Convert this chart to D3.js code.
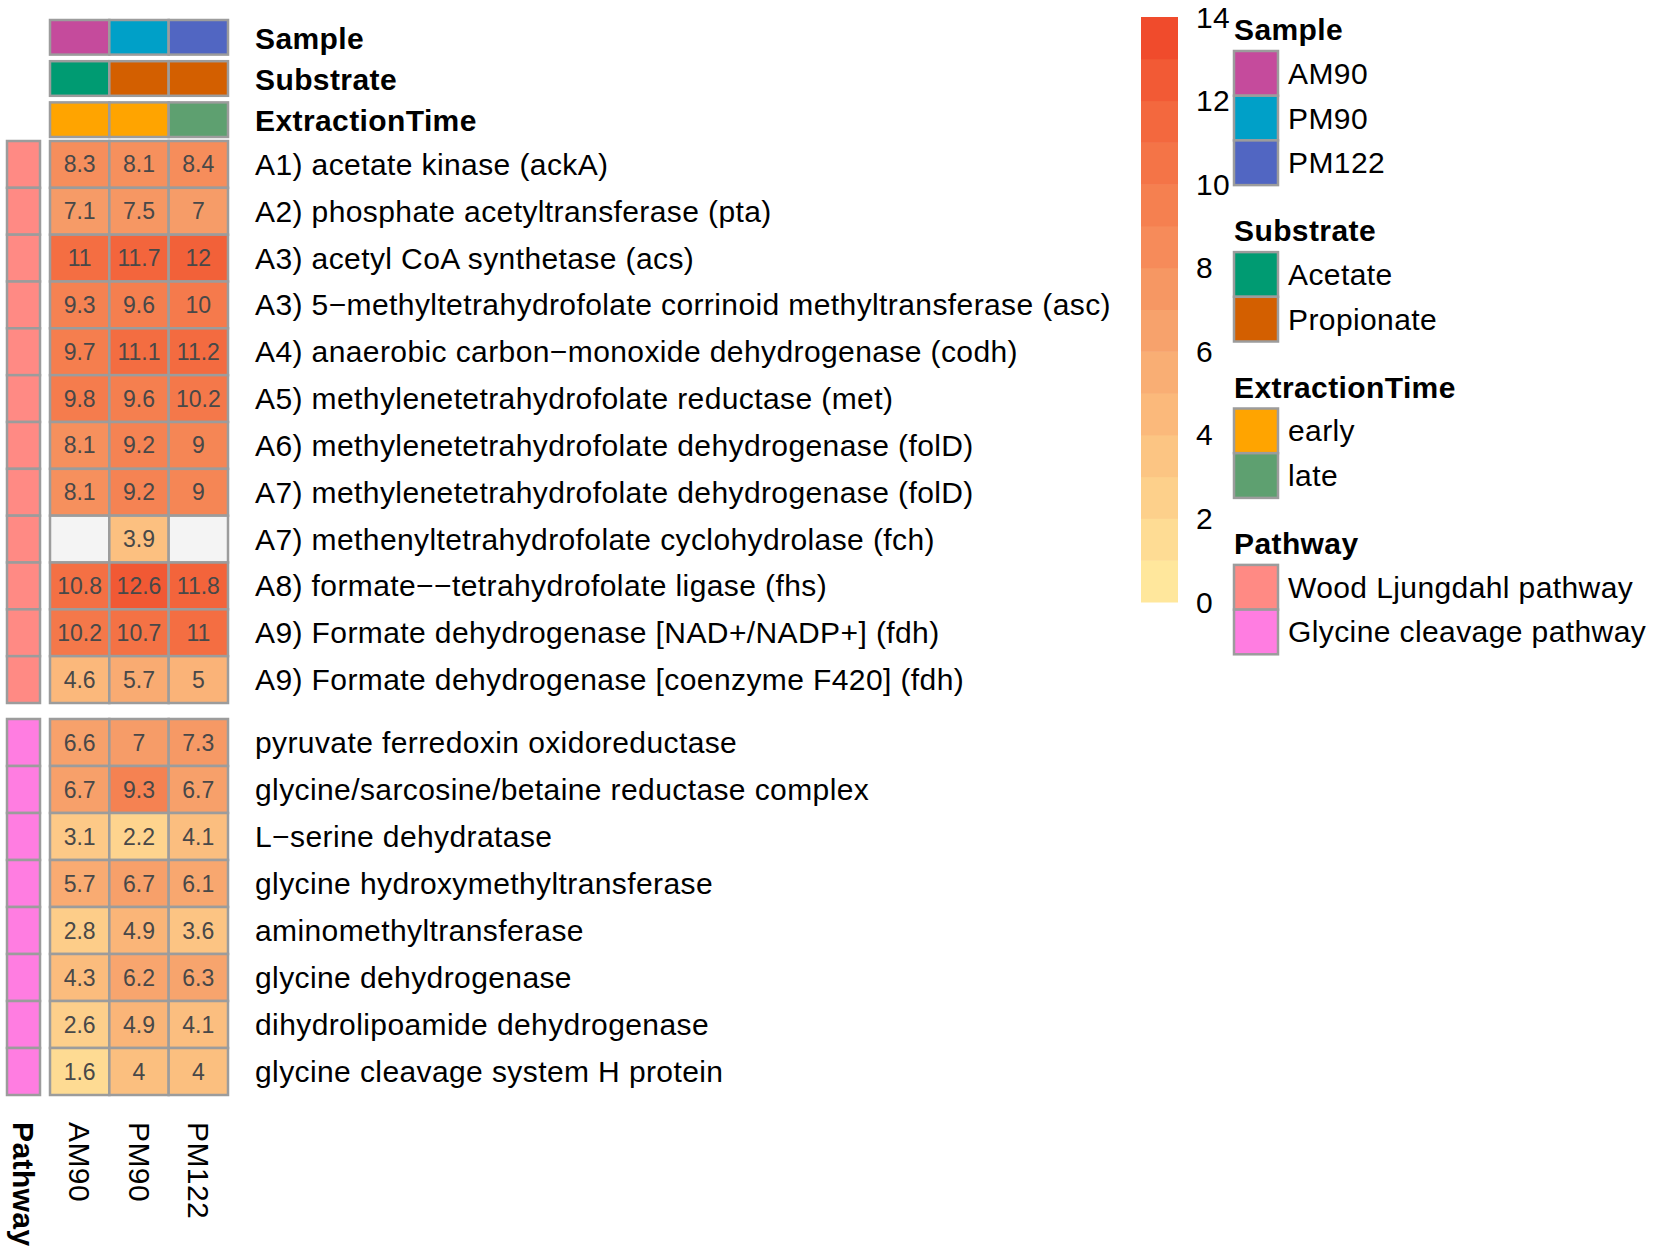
<!DOCTYPE html>
<html>
<head>
<meta charset="utf-8">
<script src="https://cdn.jsdelivr.net/npm/d3@7"></script>
<style>
  body { margin: 0; background: #fff; }
  text { font-family: "Liberation Sans", Arial, Helvetica, sans-serif; fill: #000; letter-spacing: 0.4px; }
</style>
</head>
<body>
<div id="heatmap"></div>
<script>
// Columns and their top annotations
const samples = ["AM90", "PM90", "PM122"];
const substrate = ["Acetate", "Propionate", "Propionate"];
const extractionTime = ["early", "early", "late"];

// Rows of the first split (Wood Ljungdahl pathway)
const woodGenes = [
    "A1) acetate kinase (ackA)",
    "A2) phosphate acetyltransferase (pta)",
    "A3) acetyl CoA synthetase (acs)",
    "A3) 5\u2212methyltetrahydrofolate corrinoid methyltransferase (asc)",
    "A4) anaerobic carbon\u2212monoxide dehydrogenase (codh)",
    "A5) methylenetetrahydrofolate reductase (met)",
    "A6) methylenetetrahydrofolate dehydrogenase (folD)",
    "A7) methylenetetrahydrofolate dehydrogenase (folD)",
    "A7) methenyltetrahydrofolate cyclohydrolase (fch)",
    "A8) formate\u2212\u2212tetrahydrofolate ligase (fhs)",
    "A9) Formate dehydrogenase [NAD+/NADP+] (fdh)",
    "A9) Formate dehydrogenase [coenzyme F420] (fdh)"
];
const woodValues = [
    [8.3, 8.1, 8.4],
    [7.1, 7.5, 7],
    [11, 11.7, 12],
    [9.3, 9.6, 10],
    [9.7, 11.1, 11.2],
    [9.8, 9.6, 10.2],
    [8.1, 9.2, 9],
    [8.1, 9.2, 9],
    [null, 3.9, null],
    [10.8, 12.6, 11.8],
    [10.2, 10.7, 11],
    [4.6, 5.7, 5]
];

// Rows of the second split (Glycine cleavage pathway)
const glycineGenes = [
    "pyruvate ferredoxin oxidoreductase",
    "glycine/sarcosine/betaine reductase complex",
    "L\u2212serine dehydratase",
    "glycine hydroxymethyltransferase",
    "aminomethyltransferase",
    "glycine dehydrogenase",
    "dihydrolipoamide dehydrogenase",
    "glycine cleavage system H protein"
];
const glycineValues = [
    [6.6, 7, 7.3],
    [6.7, 9.3, 6.7],
    [3.1, 2.2, 4.1],
    [5.7, 6.7, 6.1],
    [2.8, 4.9, 3.6],
    [4.3, 6.2, 6.3],
    [2.6, 4.9, 4.1],
    [1.6, 4, 4]
];

const pathways = ["Wood Ljungdahl pathway", "Glycine cleavage pathway"];
const legendTicks = [0, 2, 4, 6, 8, 10, 12, 14];

// Annotation colours
const sampleColors = { AM90: "#C54B9C", PM90: "#00A0C8", PM122: "#5166C2" };
const substrateColors = { Acetate: "#009B72", Propionate: "#D35F00" };
const timeColors = { early: "#FFA400", late: "#5EA070" };
const pathwayColors = { "Wood Ljungdahl pathway": "#FF8A84", "Glycine cleavage pathway": "#FF7DE1" };

const border = "#9c9c9c";
const naColor = "#F4F4F4";

// Value colour scale
const color = d3.scaleLinear()
    .domain([0, 7, 14])
    .range(["#FFEDA0", "#F69C68", "#EF4327"])
    .interpolate(d3.interpolateLab)
    .clamp(true);

const width = 1653, height = 1253;

const svg = d3.select("#heatmap").append("svg")
    .attr("width", width)
    .attr("height", height);

svg.append("rect").attr("width", width).attr("height", height).attr("fill", "#fff");

// Column scale shared by heatmap and top annotations
const x = d3.scaleBand().domain(samples).range([50, 228]);
const pathX = 7, pathW = 33;
const labelX = 255;

// Top annotations
const topAnno = [
    { name: "Sample", values: samples, colors: sampleColors },
    { name: "Substrate", values: substrate, colors: substrateColors },
    { name: "ExtractionTime", values: extractionTime, colors: timeColors }
];
const annoY = d3.scaleBand().domain(topAnno.map(d => d.name)).range([20, 137]).paddingInner(0.16);

topAnno.forEach(a => {
    const g = svg.append("g");
    g.selectAll("rect")
        .data(a.values)
        .enter().append("rect")
        .attr("x", (d, i) => x(samples[i]))
        .attr("y", annoY(a.name))
        .attr("width", x.bandwidth())
        .attr("height", annoY.bandwidth())
        .attr("fill", d => a.colors[d])
        .attr("stroke", border)
        .attr("stroke-width", 2.5);
    g.append("text")
        .attr("x", labelX)
        .attr("y", annoY(a.name) + annoY.bandwidth() / 2 + 1)
        .attr("dominant-baseline", "central")
        .style("font-size", "30px")
        .style("font-weight", "bold")
        .text(a.name);
});

// Heatmap splits
const blocks = [
    { pathway: pathways[0], genes: woodGenes, values: woodValues, range: [141, 703] },
    { pathway: pathways[1], genes: glycineGenes, values: glycineValues, range: [719, 1095] }
];

blocks.forEach(b => {
    const y = d3.scaleBand().domain(b.genes.map((d, i) => i)).range(b.range);
    const g = svg.append("g");

    // pathway annotation column
    g.selectAll(".path")
        .data(b.genes)
        .enter().append("rect")
        .attr("x", pathX)
        .attr("y", (d, i) => y(i))
        .attr("width", pathW)
        .attr("height", y.bandwidth())
        .attr("fill", pathwayColors[b.pathway])
        .attr("stroke", border)
        .attr("stroke-width", 2.5);

    const cells = [];
    b.values.forEach((row, i) => row.forEach((v, j) => cells.push({ i, j, v })));

    g.selectAll(".cell")
        .data(cells)
        .enter().append("rect")
        .attr("x", d => x(samples[d.j]))
        .attr("y", d => y(d.i))
        .attr("width", x.bandwidth())
        .attr("height", y.bandwidth())
        .attr("fill", d => d.v == null ? naColor : color(d.v))
        .attr("stroke", border)
        .attr("stroke-width", 2.5);

    g.selectAll(".val")
        .data(cells.filter(d => d.v != null))
        .enter().append("text")
        .attr("x", d => x(samples[d.j]) + x.bandwidth() / 2)
        .attr("y", d => y(d.i) + y.bandwidth() / 2)
        .attr("text-anchor", "middle")
        .attr("dominant-baseline", "central")
        .style("font-size", "23px")
        .style("letter-spacing", "0px")
        .style("fill", "#484848")
        .text(d => d.v);

    g.selectAll(".rowlab")
        .data(b.genes)
        .enter().append("text")
        .attr("x", labelX)
        .attr("y", (d, i) => y(i) + y.bandwidth() / 2)
        .attr("dominant-baseline", "central")
        .style("font-size", "30px")
        .text(d => d);
});

// Column names (rotated, reading downwards)
const colNameY = 1122;
svg.selectAll(".colname")
    .data(samples)
    .enter().append("text")
    .attr("transform", d => `translate(${x(d) + x.bandwidth() / 2},${colNameY}) rotate(90)`)
    .attr("dominant-baseline", "central")
    .style("font-size", "30px")
    .text(d => d);

svg.append("text")
    .attr("transform", `translate(${pathX + pathW / 2},${colNameY}) rotate(90)`)
    .attr("dominant-baseline", "central")
    .style("font-size", "30px")
    .style("font-weight", "bold")
    .text("Pathway");

// Colour bar legend
const barX = 1141, barW = 37;
const barY = d3.scaleLinear().domain([0, 14]).range([602, 17]);
const bands = d3.range(0, 14);

svg.append("g")
    .selectAll("rect")
    .data(bands)
    .enter().append("rect")
    .attr("x", barX)
    .attr("y", d => barY(d + 1))
    .attr("width", barW)
    .attr("height", d => barY(d) - barY(d + 1) + 0.5)
    .attr("fill", d => color(d + 0.5));

svg.append("g")
    .selectAll("text")
    .data(legendTicks)
    .enter().append("text")
    .attr("x", 1196)
    .attr("y", d => barY(d))
    .attr("dominant-baseline", "central")
    .style("font-size", "30px")
    .text(d => d);

// Discrete legends
const legends = [
    { title: "Sample", items: samples, colors: sampleColors },
    { title: "Substrate", items: ["Acetate", "Propionate"], colors: substrateColors },
    { title: "ExtractionTime", items: ["early", "late"], colors: timeColors },
    { title: "Pathway", items: pathways, colors: pathwayColors }
];

const legX = 1234, swW = 44, swH = 44.7;
let baseline = 40;
legends.forEach(l => {
    const g = svg.append("g");
    g.append("text")
        .attr("x", legX)
        .attr("y", baseline)
        .style("font-size", "30px")
        .style("font-weight", "bold")
        .text(l.title);
    const top = baseline + 11;
    g.selectAll("rect")
        .data(l.items)
        .enter().append("rect")
        .attr("x", legX)
        .attr("y", (d, i) => top + i * swH)
        .attr("width", swW)
        .attr("height", swH)
        .attr("fill", d => l.colors[d])
        .attr("stroke", border)
        .attr("stroke-width", 2.5);
    g.selectAll(".lab")
        .data(l.items)
        .enter().append("text")
        .attr("x", 1288)
        .attr("y", (d, i) => top + i * swH + swH / 2)
        .attr("dominant-baseline", "central")
        .style("font-size", "30px")
        .text(d => d);
    baseline = top + l.items.length * swH + 56;
});
</script>
</body>
</html>
